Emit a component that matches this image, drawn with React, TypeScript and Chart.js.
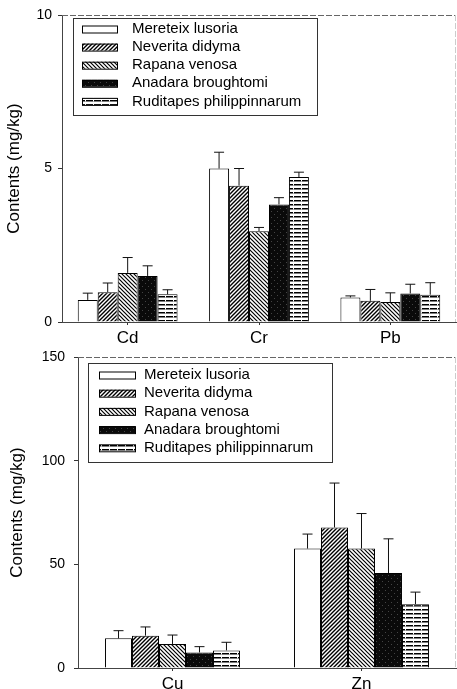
import React, { useEffect, useRef } from "react";
import { Chart, registerables } from "chart.js";
Chart.register(...registerables);

const seriesNames = [
  "Mereteix lusoria",
  "Neverita didyma",
  "Rapana venosa",
  "Anadara broughtomi",
  "Ruditapes philippinnarum",
];

// Top panel (Cd, Cr, Pb)
const topCategories = ["Cd", "Cr", "Pb"];
const topMereteix = [0.72, 5.0, 0.8];
const topNeverita = [0.97, 4.44, 0.69];
const topRapana = [1.6, 2.96, 0.65];
const topAnadara = [1.5, 3.83, 0.93];
const topRuditapes = [0.9, 4.72, 0.89];
const topMereteixSd = [0.22, 0.53, 0.05];
const topNeveritaSd = [0.3, 0.56, 0.37];
const topRapanaSd = [0.5, 0.12, 0.3];
const topAnadaraSd = [0.33, 0.22, 0.3];
const topRuditapesSd = [0.15, 0.16, 0.39];
const topTicks = [0, 5, 10];

// Bottom panel (Cu, Zn)
const bottomCategories = ["Cu", "Zn"];
const botMereteix = [14.3, 57.6];
const botNeverita = [15.6, 67.8];
const botRapana = [11.6, 57.6];
const botAnadara = [7.5, 45.8];
const botRuditapes = [8.5, 30.8];
const botMereteixSd = [3.7, 7.0];
const botNeveritaSd = [4.2, 21.4];
const botRapanaSd = [4.3, 16.9];
const botAnadaraSd = [2.8, 16.5];
const botRuditapesSd = [3.9, 5.8];
const bottomTicks = [0, 50, 100, 150];

const FONT = "'Liberation Sans', Arial, Helvetica, sans-serif";

function makePatterns(): (string | CanvasPattern)[] {
  const mk = (w: number, h: number, draw: (c: CanvasRenderingContext2D) => void) => {
    const cv = document.createElement("canvas");
    cv.width = w;
    cv.height = h;
    const c = cv.getContext("2d")!;
    draw(c);
    return c.createPattern(cv, "repeat")!;
  };
  const fwd = mk(4, 4, (c) => {
    c.fillStyle = "#fff";
    c.fillRect(0, 0, 4, 4);
    c.strokeStyle = "#000";
    c.lineWidth = 1.4;
    c.beginPath();
    c.moveTo(-1, 5);
    c.lineTo(5, -1);
    c.moveTo(-1, 1);
    c.lineTo(1, -1);
    c.moveTo(3, 5);
    c.lineTo(5, 3);
    c.stroke();
  });
  const back = mk(4, 4, (c) => {
    c.fillStyle = "#fff";
    c.fillRect(0, 0, 4, 4);
    c.strokeStyle = "#000";
    c.lineWidth = 1.2;
    c.beginPath();
    c.moveTo(-1, -1);
    c.lineTo(5, 5);
    c.moveTo(3, -1);
    c.lineTo(5, 1);
    c.moveTo(-1, 3);
    c.lineTo(1, 5);
    c.stroke();
  });
  const dark = mk(6, 6, (c) => {
    c.fillStyle = "#0a0a0a";
    c.fillRect(0, 0, 6, 6);
    c.fillStyle = "#444";
    c.fillRect(1, 1, 1, 1);
    c.fillRect(4, 4, 1, 1);
  });
  const horiz = mk(8, 4, (c) => {
    c.fillStyle = "#fff";
    c.fillRect(0, 0, 8, 4);
    c.fillStyle = "#000";
    c.fillRect(0, 0, 8, 1.5);
    c.fillStyle = "#fff";
    c.fillRect(5, 0, 1, 1.5);
  });
  return ["#ffffff", fwd, back, dark, horiz];
}

const errorBarPlugin = {
  id: "errorBars",
  afterDatasetsDraw(chart: any) {
    const ctx = chart.ctx;
    const y = chart.scales.y;
    chart.data.datasets.forEach((ds: any, i: number) => {
      const meta = chart.getDatasetMeta(i);
      meta.data.forEach((bar: any, j: number) => {
        const top = y.getPixelForValue(ds.data[j] + ds.errors[j]);
        ctx.save();
        ctx.strokeStyle = "#111";
        ctx.lineWidth = 1;
        ctx.beginPath();
        ctx.moveTo(bar.x, bar.y);
        ctx.lineTo(bar.x, top);
        ctx.moveTo(bar.x - 5, top);
        ctx.lineTo(bar.x + 5, top);
        ctx.stroke();
        ctx.restore();
      });
    });
  },
};

const framePlugin = {
  id: "frame",
  beforeDatasetsDraw(chart: any) {
    const { ctx, chartArea: a } = chart;
    ctx.save();
    ctx.strokeStyle = "#666";
    ctx.lineWidth = 1;
    ctx.setLineDash([6, 2]);
    ctx.beginPath();
    ctx.moveTo(a.left, a.top + 0.5);
    ctx.lineTo(a.right, a.top + 0.5);
    ctx.stroke();
    ctx.strokeStyle = "#ccc";
    ctx.beginPath();
    ctx.moveTo(a.right - 0.5, a.top);
    ctx.lineTo(a.right - 0.5, a.bottom);
    ctx.stroke();
    ctx.restore();
  },
};

const boxLegendPlugin = {
  id: "boxLegend",
  afterDraw(chart: any, _args: any, opts: any) {
    const { ctx, chartArea: a } = chart;
    const x0 = a.left + opts.dx;
    const y0 = a.top + opts.dy;
    ctx.save();
    ctx.fillStyle = "#fff";
    ctx.fillRect(x0, y0, opts.w, opts.h);
    ctx.strokeStyle = "#333";
    ctx.lineWidth = 1;
    ctx.strokeRect(x0 + 0.5, y0 + 0.5, opts.w, opts.h);
    ctx.font = `15px ${FONT}`;
    ctx.textBaseline = "middle";
    ctx.textAlign = "left";
    chart.data.datasets.forEach((ds: any, i: number) => {
      const cy = y0 + opts.firstRow + i * opts.rowH;
      const sx = x0 + opts.swatchX;
      ctx.fillStyle = ds.backgroundColor;
      ctx.fillRect(sx, cy - opts.swatchH / 2, opts.swatchW, opts.swatchH);
      ctx.strokeStyle = "#000";
      ctx.strokeRect(sx + 0.5, cy - opts.swatchH / 2 + 0.5, opts.swatchW, opts.swatchH);
      ctx.fillStyle = "#000";
      ctx.fillText(ds.label, x0 + opts.textX, cy);
    });
    ctx.restore();
  },
};

function buildConfig(
  categories: string[],
  values: number[][],
  errors: number[][],
  ticks: number[],
  max: number,
  patterns: (string | CanvasPattern)[],
  geo: any
): any {
  return {
    type: "bar",
    data: {
      labels: categories,
      datasets: values.map((v, i) => ({
        label: seriesNames[i],
        data: v,
        errors: errors[i],
        backgroundColor: patterns[i],
        borderColor: "#000",
        borderWidth: 1,
        barPercentage: 1,
        categoryPercentage: geo.catPct,
      })),
    },
    options: {
      responsive: false,
      animation: false,
      layout: { padding: { top: geo.padTop, right: 1, left: 0, bottom: 0 } },
      plugins: {
        legend: { display: false },
        tooltip: { enabled: false },
        boxLegend: geo.legend,
      },
      scales: {
        x: {
          grid: {
            display: true,
            drawOnChartArea: false,
            drawTicks: true,
            tickLength: 3,
            offset: false,
            color: "#333",
          },
          border: { display: true, color: "#444", width: 1 },
          ticks: { color: "#000", font: { family: FONT, size: 17 }, padding: geo.xPad },
          afterFit: (s: any) => {
            s.height = geo.xHeight;
            s.paddingLeft = 0;
            s.paddingRight = 0;
          },
        },
        y: {
          min: 0,
          max,
          grid: {
            display: true,
            drawOnChartArea: false,
            drawTicks: true,
            tickLength: 4,
            color: "#333",
          },
          border: { display: true, color: "#444", width: 1 },
          ticks: { color: "#000", font: { family: FONT, size: 14 }, padding: geo.yPad },
          afterBuildTicks: (s: any) => {
            s.ticks = ticks.map((t) => ({ value: t }));
          },
          afterFit: (s: any) => {
            s.width = geo.yWidth;
            s.paddingTop = 0;
            s.paddingBottom = 0;
          },
          title: {
            display: true,
            text: "Contents (mg/kg)",
            color: "#000",
            font: { family: FONT, size: 17 },
            padding: { top: geo.titlePad, bottom: 0 },
          },
        },
      },
    },
    plugins: [framePlugin, errorBarPlugin, boxLegendPlugin],
  };
}

export default function App() {
  const topRef = useRef<HTMLCanvasElement>(null);
  const botRef = useRef<HTMLCanvasElement>(null);

  useEffect(() => {
    const patterns = makePatterns();
    const top = new Chart(
      topRef.current!,
      buildConfig(
        topCategories,
        [topMereteix, topNeverita, topRapana, topAnadara, topRuditapes],
        [topMereteixSd, topNeveritaSd, topRapanaSd, topAnadaraSd, topRuditapesSd],
        topTicks,
        10,
        patterns,
        {
          catPct: 0.76,
          padTop: 15,
          xPad: 3,
          xHeight: 27,
          yPad: 6,
          yWidth: 62,
          titlePad: 4,
          legend: { dx: 11, dy: 3, w: 244, h: 97, firstRow: 11, rowH: 18.1, swatchX: 9, swatchW: 35, swatchH: 7, textX: 59 },
        }
      )
    );
    const bot = new Chart(
      botRef.current!,
      buildConfig(
        bottomCategories,
        [botMereteix, botNeverita, botRapana, botAnadara, botRuditapes],
        [botMereteixSd, botNeveritaSd, botRapanaSd, botAnadaraSd, botRuditapesSd],
        bottomTicks,
        150,
        patterns,
        {
          catPct: 0.714,
          padTop: 8,
          xPad: 3,
          xHeight: 21,
          yPad: 9,
          yWidth: 78,
          titlePad: 7,
          legend: { dx: 10, dy: 6, w: 244, h: 99, firstRow: 12, rowH: 18.2, swatchX: 11, swatchW: 36, swatchH: 7, textX: 56 },
        }
      )
    );
    return () => {
      top.destroy();
      bot.destroy();
    };
  }, []);

  return (
    <div style={{ position: "fixed", left: 0, top: 0, width: 457, height: 689, background: "#fff", overflow: "hidden" }}>
      <canvas ref={topRef} width={457} height={349} style={{ position: "absolute", left: 0, top: 0 }} />
      <canvas ref={botRef} width={457} height={340} style={{ position: "absolute", left: 0, top: 349 }} />
    </div>
  );
}
